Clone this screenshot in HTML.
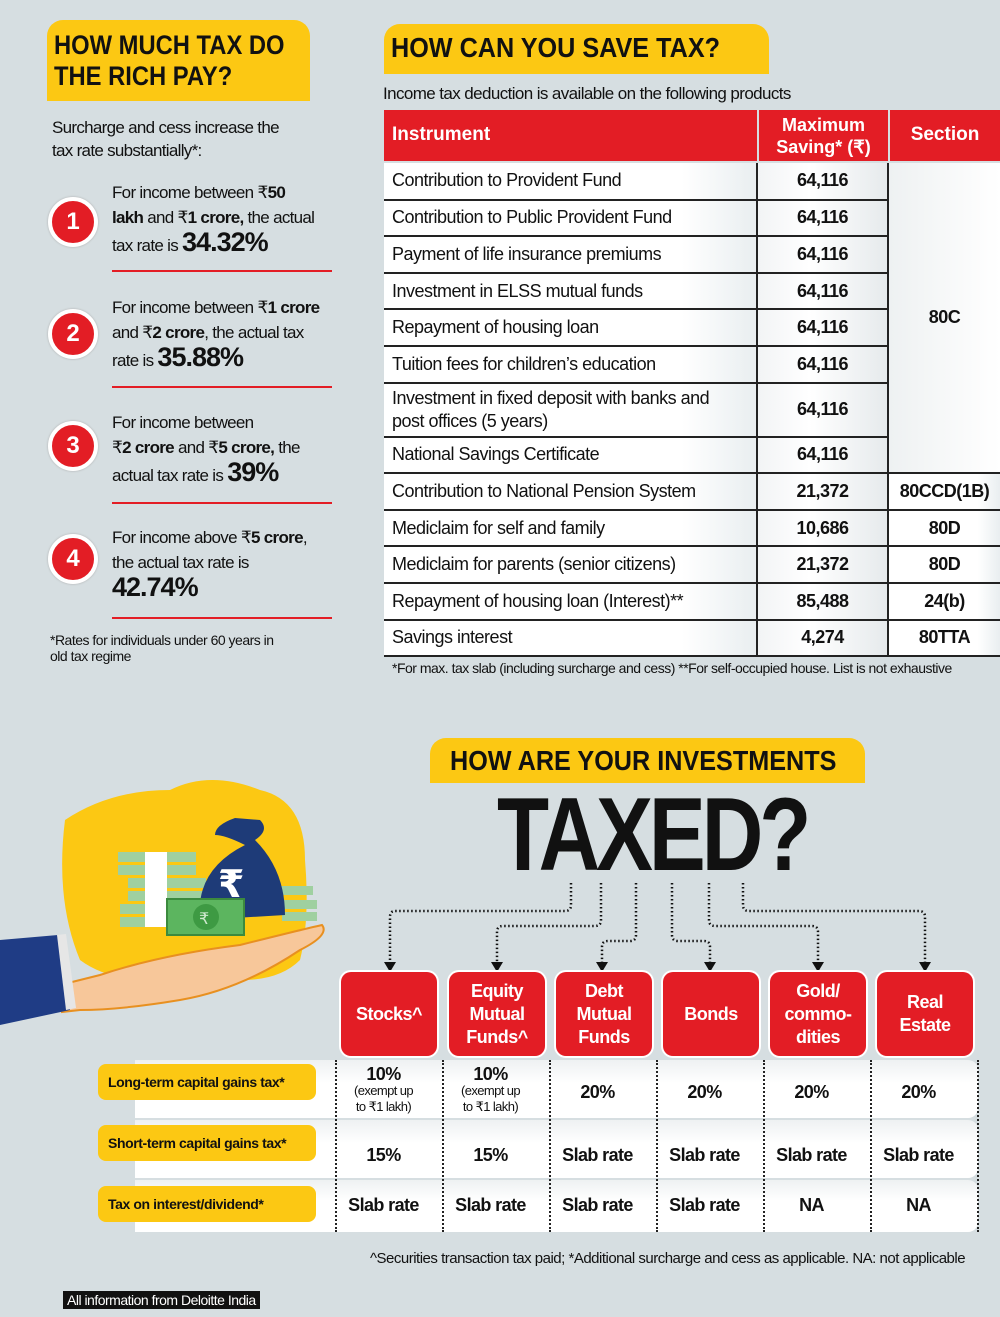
<!DOCTYPE html>
<html><head><meta charset="utf-8"><style>
*{margin:0;padding:0;box-sizing:border-box}
body{width:1000px;height:1317px;background:#d6dee1;font-family:"Liberation Sans",sans-serif;position:relative;overflow:hidden;color:#111}
.a{position:absolute}
.yel{background:#fcc813}
.h{font-weight:bold;transform-origin:left top}
.circ{width:50px;height:50px;border-radius:50%;background:#e31d25;border:4px solid #fff;color:#fff;font-weight:bold;font-size:24px;text-align:center;line-height:42px;box-shadow:0 0 2px #aaa}
.txt{font-size:17px;line-height:25px;letter-spacing:-0.7px}
.big{font-size:27px;font-weight:bold;letter-spacing:-1px}
.rl{height:2px;background:#e31d25;width:220px;left:112px}
table{border-collapse:collapse;font-size:18px;letter-spacing:-0.5px}
td{border-bottom:2px solid #222;height:36.6px;padding:0 8px;background:linear-gradient(90deg,#fff,#fff 80%,#e9eef0)}
td.m{text-align:center;font-weight:bold;border-left:2px solid #222;border-right:2px solid #222;background:linear-gradient(90deg,#f2f4f5,#fff 40%,#e6eaec)}
td.s{text-align:center;font-weight:bold}
.rb{background:#e31d25;color:#fff;border-radius:10px;font-weight:bold;font-size:18px;letter-spacing:-0.5px;text-align:center;display:flex;align-items:center;justify-content:center;line-height:23px;width:96px;height:84px;box-shadow:0 0 0 2px #fff}
.pill{background:#fcc813;border-radius:8px;font-weight:bold;font-size:14px;letter-spacing:-0.4px;padding-left:10px;display:flex;align-items:center;width:218px;left:98px;height:36px}
.band{left:135px;width:843px;background:linear-gradient(180deg,#eef1f2,#fff 40%);border-radius:0 10px 10px 0}
.cell{position:absolute;width:107px;text-align:center;font-weight:bold;font-size:18px;letter-spacing:-0.6px}
.dv{position:absolute;top:1060px;height:172px;border-left:2px dotted #222}
</style></head><body>

<div class="a yel" style="left:47px;top:20px;width:263px;height:81px;border-radius:16px 16px 0 0"></div>
<div class="a h" style="left:54px;top:30px;font-size:27px;line-height:31px;transform:scaleX(0.88)">HOW MUCH TAX DO<br>THE RICH PAY?</div>
<div class="a txt" style="left:52px;top:116px;line-height:23px">Surcharge and cess increase the<br>tax rate substantially*:</div>

<div class="a circ" style="left:48px;top:197px">1</div>
<div class="a txt" style="left:112px;top:180px">For income between ₹<b>50</b><br><b>lakh</b> and ₹<b>1 crore,</b> the actual<br>tax rate is <span class="big">34.32%</span></div>
<div class="a rl" style="top:270px"></div>

<div class="a circ" style="left:48px;top:309px">2</div>
<div class="a txt" style="left:112px;top:295px">For income between ₹<b>1 crore</b><br>and ₹<b>2 crore</b>, the actual tax<br>rate is <span class="big">35.88%</span></div>
<div class="a rl" style="top:386px"></div>

<div class="a circ" style="left:48px;top:421px">3</div>
<div class="a txt" style="left:112px;top:410px">For income between<br>₹<b>2 crore</b> and ₹<b>5 crore,</b> the<br>actual tax rate is <span class="big">39%</span></div>
<div class="a rl" style="top:502px"></div>

<div class="a circ" style="left:48px;top:534px">4</div>
<div class="a txt" style="left:112px;top:525px">For income above ₹<b>5 crore</b>,<br>the actual tax rate is<br><span class="big">42.74%</span></div>
<div class="a rl" style="top:617px"></div>

<div class="a" style="left:50px;top:632px;font-size:14px;line-height:16px;letter-spacing:-0.5px">*Rates for individuals under 60 years in<br>old tax regime</div>

<div class="a yel" style="left:384px;top:24px;width:385px;height:50px;border-radius:16px 16px 0 0"></div>
<div class="a h" style="left:391px;top:32px;font-size:28px;transform:scaleX(0.9)">HOW CAN YOU SAVE TAX?</div>
<div class="a" style="left:383px;top:84px;font-size:17px;letter-spacing:-0.6px">Income tax deduction is available on the following products</div>

<div class="a" style="left:384px;top:110px;width:373px;height:51px;background:#e31d25;color:#fff;font-weight:bold;font-size:19px;padding:14px 8px">Instrument</div>
<div class="a" style="left:759px;top:110px;width:129px;height:51px;background:#e31d25;color:#fff;font-weight:bold;font-size:18px;text-align:center;line-height:22px;padding-top:4px">Maximum<br>Saving* (₹)</div>
<div class="a" style="left:890px;top:110px;width:110px;height:51px;background:#e31d25;color:#fff;font-weight:bold;font-size:19px;text-align:center;padding-top:14px">Section</div>

<table class="a" style="left:384px;top:163px;width:616px">
<colgroup><col style="width:373px"><col style="width:131px"><col style="width:112px"></colgroup>
<tr><td>Contribution to Provident Fund</td><td class="m">64,116</td><td class="s" rowspan="8" style="background:linear-gradient(90deg,#eef1f2,#fff)">80C</td></tr>
<tr><td>Contribution to Public Provident Fund</td><td class="m">64,116</td></tr>
<tr><td>Payment of life insurance premiums</td><td class="m">64,116</td></tr>
<tr><td>Investment in ELSS mutual funds</td><td class="m">64,116</td></tr>
<tr><td>Repayment of housing loan</td><td class="m">64,116</td></tr>
<tr><td>Tuition fees for children’s education</td><td class="m">64,116</td></tr>
<tr><td style="height:54px;line-height:23px">Investment in fixed deposit with banks and<br>post offices (5 years)</td><td class="m">64,116</td></tr>
<tr><td>National Savings Certificate</td><td class="m">64,116</td></tr>
<tr><td>Contribution to National Pension System</td><td class="m">21,372</td><td class="s">80CCD(1B)</td></tr>
<tr><td>Mediclaim for self and family</td><td class="m">10,686</td><td class="s">80D</td></tr>
<tr><td>Mediclaim for parents (senior citizens)</td><td class="m">21,372</td><td class="s">80D</td></tr>
<tr><td>Repayment of housing loan (Interest)**</td><td class="m">85,488</td><td class="s">24(b)</td></tr>
<tr><td>Savings interest</td><td class="m">4,274</td><td class="s">80TTA</td></tr>
</table>
<div class="a" style="left:392px;top:660px;font-size:14px;letter-spacing:-0.5px">*For max. tax slab (including surcharge and cess) **For self-occupied house. List is not exhaustive</div>

<svg class="a" style="left:0;top:770px" width="340" height="260" viewBox="0 770 340 260">
<path d="M65 820 Q110 790 170 790 Q210 770 260 790 Q305 800 305 860 Q310 920 300 960 Q270 990 200 975 Q120 990 80 960 Q55 900 65 820Z" fill="#fcc813"/>
<g fill="#9fd0a0"><rect x="118" y="852" width="78" height="10"/><rect x="118" y="865" width="78" height="10"/><rect x="128" y="878" width="78" height="10"/><rect x="128" y="891" width="78" height="10"/><rect x="120" y="904" width="78" height="10"/><rect x="120" y="917" width="78" height="10"/><rect x="278" y="886" width="35" height="9"/><rect x="282" y="900" width="35" height="9"/><rect x="282" y="912" width="35" height="9"/></g>
<rect x="145" y="852" width="22" height="75" fill="#fff"/>
<path d="M245 845 Q225 835 215 835 Q215 825 235 818 L260 820 Q270 830 255 840 Q285 870 285 915 L200 920 Q195 870 245 845Z" fill="#1e3b78"/>
<text x="218" y="897" font-size="38" font-weight="bold" fill="#fff" font-family="DejaVu Sans,sans-serif">₹</text>
<rect x="167" y="899" width="77" height="36" fill="#5cb55f" stroke="#3c8a3e" stroke-width="2"/>
<circle cx="206" cy="917" r="13" fill="#3e9a43"/><text x="199" y="924" font-size="16" fill="#cfe9cf" font-family="DejaVu Sans,sans-serif">₹</text>
<path d="M60 985 L100 975 Q160 955 240 945 Q300 930 322 925 Q330 935 300 950 Q240 990 180 1000 Q120 1010 80 1010 L62 1012Z" fill="#f7c79a" stroke="#e89020" stroke-width="2"/>
<path d="M0 940 L58 935 L70 1010 L0 1025Z" fill="#1f3c85"/>
<path d="M57 935 L66 934 L76 1008 L66 1010Z" fill="#e6e6e6"/>
</svg>

<div class="a yel" style="left:430px;top:738px;width:435px;height:45px;border-radius:16px 16px 0 0"></div>
<div class="a h" style="left:450px;top:745px;font-size:28px;transform:scaleX(0.9)">HOW ARE YOUR INVESTMENTS</div>
<div class="a h" style="left:497px;top:780px;font-size:104px;letter-spacing:-5px;line-height:110px;transform:scaleX(0.82)">TAXED?</div>

<svg class="a" style="left:0;top:0" width="1000" height="1317">
<g fill="none" stroke="#111" stroke-width="2.5" stroke-dasharray="1.5 2.5">
<path d="M571 883 V905 Q571 911 565 911 H395 Q390 911 390 917 V965"/>
<path d="M601 883 V920 Q601 926 595 926 H503 Q497 926 497 932 V965"/>
<path d="M636 883 V935 Q636 941 630 941 H608 Q602 941 602 947 V965"/>
<path d="M672 883 V935 Q672 941 678 941 H704 Q710 941 710 947 V965"/>
<path d="M709 883 V920 Q709 926 715 926 H812 Q818 926 818 932 V965"/>
<path d="M743 883 V905 Q743 911 749 911 H919 Q925 911 925 917 V965"/>
</g>
<g fill="#111"><path d="M384 962 h12 l-6 10z"/><path d="M491 962 h12 l-6 10z"/><path d="M596 962 h12 l-6 10z"/><path d="M704 962 h12 l-6 10z"/><path d="M812 962 h12 l-6 10z"/><path d="M919 962 h12 l-6 10z"/></g>
</svg>

<div class="a rb" style="left:341px;top:972px">Stocks^</div>
<div class="a rb" style="left:449px;top:972px">Equity<br>Mutual<br>Funds^</div>
<div class="a rb" style="left:556px;top:972px">Debt<br>Mutual<br>Funds</div>
<div class="a rb" style="left:663px;top:972px">Bonds</div>
<div class="a rb" style="left:770px;top:972px">Gold/<br>commo-<br>dities</div>
<div class="a rb" style="left:877px;top:972px">Real<br>Estate</div>

<div class="a band" style="top:1060px;height:58px"></div>
<div class="a band" style="top:1120px;height:58px"></div>
<div class="a band" style="top:1180px;height:52px"></div>
<div class="a pill" style="top:1064px">Long-term capital gains tax*</div>
<div class="a pill" style="top:1125px">Short-term capital gains tax*</div>
<div class="a pill" style="top:1186px">Tax on interest/dividend*</div>

<div class="dv" style="left:335px"></div><div class="dv" style="left:442px"></div><div class="dv" style="left:549px"></div><div class="dv" style="left:656px"></div><div class="dv" style="left:763px"></div><div class="dv" style="left:870px"></div><div class="dv" style="left:977px"></div>

<div class="cell" style="left:330px;top:1067px;line-height:15px">10%<br><span style="font-weight:normal;font-size:13px">(exempt up<br>to ₹1 lakh)</span></div>
<div class="cell" style="left:437px;top:1067px;line-height:15px">10%<br><span style="font-weight:normal;font-size:13px">(exempt up<br>to ₹1 lakh)</span></div>
<div class="cell" style="left:544px;top:1082px">20%</div>
<div class="cell" style="left:651px;top:1082px">20%</div>
<div class="cell" style="left:758px;top:1082px">20%</div>
<div class="cell" style="left:865px;top:1082px">20%</div>

<div class="cell" style="left:330px;top:1145px">15%</div>
<div class="cell" style="left:437px;top:1145px">15%</div>
<div class="cell" style="left:544px;top:1145px">Slab rate</div>
<div class="cell" style="left:651px;top:1145px">Slab rate</div>
<div class="cell" style="left:758px;top:1145px">Slab rate</div>
<div class="cell" style="left:865px;top:1145px">Slab rate</div>

<div class="cell" style="left:330px;top:1195px">Slab rate</div>
<div class="cell" style="left:437px;top:1195px">Slab rate</div>
<div class="cell" style="left:544px;top:1195px">Slab rate</div>
<div class="cell" style="left:651px;top:1195px">Slab rate</div>
<div class="cell" style="left:758px;top:1195px">NA</div>
<div class="cell" style="left:865px;top:1195px">NA</div>

<div class="a" style="left:370px;top:1250px;font-size:15px;letter-spacing:-0.5px">^Securities transaction tax paid; *Additional surcharge and cess as applicable. NA: not applicable</div>
<div class="a" style="left:63px;top:1291px;background:#111;color:#fff;font-size:14px;padding:1px 4px;letter-spacing:-0.5px">All information from Deloitte India</div>
</body></html>
